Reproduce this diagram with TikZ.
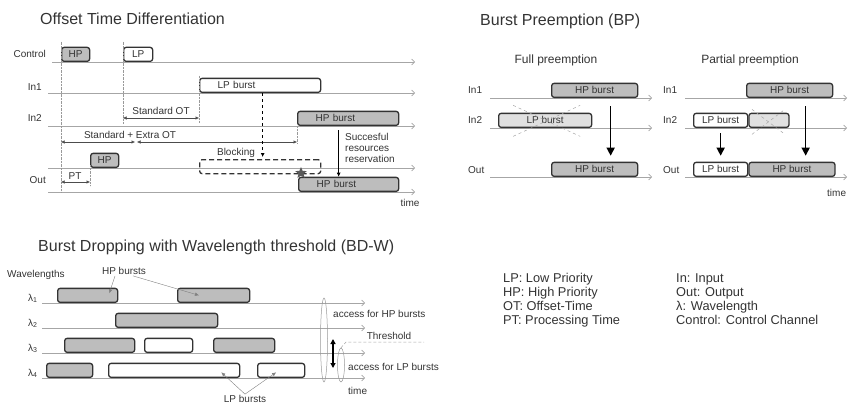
\documentclass[tikz,border=0pt]{standalone}
\usepackage{fontspec}
\setmainfont{Liberation Sans}
\usetikzlibrary{arrows.meta,shapes.geometric}

\begin{document}
\begin{tikzpicture}[x=1pt, y=-1pt,
  every node/.style={font=\fontsize{10}{12}\selectfont, text=black!80, inner sep=1pt},
  title/.style={font=\fontsize{16}{19}\selectfont, anchor=base west, inner sep=0pt},
  subtitle/.style={font=\fontsize{12}{14}\selectfont},
  legend/.style={font=\fontsize{12.8}{15}\selectfont, anchor=base west, inner sep=0pt},
  chan/.style={draw=black!35, line width=0.6pt, -{Straight Barb[length=3pt,width=6pt]}},
  burst/.style={draw=black!80, line width=1.3pt, rounded corners=2.5pt, minimum height=14pt,
                minimum width=#1, inner sep=0pt, anchor=south west},
  hp/.style={burst=#1, fill=black!26},
  lp/.style={burst=#1, fill=white},
  drop/.style={burst=#1, fill=black!12},
  guide/.style={draw=black!40, densely dotted, line width=0.4pt},
  span/.style={draw=black!70, line width=0.5pt, {Latex[length=3.5pt,width=3.5pt]}-{Latex[length=3.5pt,width=3.5pt]}},
  push/.style={draw=black, line width=1.5pt, -{Triangle[length=8pt,width=8pt]}},
  cross/.style={draw=black!35, dashed, line width=0.5pt},
  pointer/.style={draw=black!50, line width=0.4pt, -{Latex[length=4pt,width=3.5pt]}}
]
\useasboundingbox (0,0) rectangle (848,404);

% ---------------- Offset Time Differentiation ----------------
\node[title] (otdTitle) at (40,25) {Offset Time Differentiation};

\node[anchor=east] (ctlLbl) at (47,54) {Control};
\node[anchor=east] (in1Lbl) at (43,87) {In1};
\node[anchor=east] (in2Lbl) at (43,118) {In2};
\node[anchor=east] (outLbl) at (47,180) {Out};

% time axes
\foreach \n/\x/\y in {ctl/52/62, inA/48/93, inB/48/126, outC/48/168, out/48/192}{
  \coordinate (\n S) at (\x,\y);
  \coordinate (\n E) at (415,\y);
  \draw[chan] (\n S) -- (\n E);
}

\node[hp=28pt] (ctlHP) at (61,62) {HP};
\node[lp=29pt] (ctlLP) at (123,62) {LP};
\node[lp=121pt, text width=85pt, inner xsep=18pt, align=left] (in1LP) at (199,93) {LP burst};
\node[hp=101pt, text width=65pt, inner xsep=18pt, align=left] (in2HP) at (297,126) {HP burst};
\node[hp=28pt] (outCtlHP) at (90,168) {HP};
\node[hp=100pt, text width=64pt, inner xsep=18pt, align=left] (outHP) at (298,192) {HP burst};
\node[burst=121pt, fill=none, dash pattern=on 5pt off 3pt, anchor=north west] (block) at (199,159) {};
\node (blockLbl) at (236,153) {Blocking};

% offsets
\coordinate (otA) at (123,118);
\coordinate (otB) at (199,118);
\coordinate (seA) at (61,142);
\coordinate (seM) at (136,142);
\coordinate (seB) at (297,142);
\coordinate (ptA) at (61,182);
\coordinate (ptB) at (90,182);

\draw[guide] ([yshift=5pt]ctlHP.north west) -- (ctlHP.west |- outS);
\draw[guide] ([yshift=5pt]ctlLP.north west) -- ([yshift=-5pt]otA);
\draw[guide] ([yshift=2pt]in1LP.north west) -- ([yshift=-5pt]otB);
\draw[guide] (in2HP.south west) -- ([yshift=-1pt]seB);
\draw[guide] ([yshift=3pt]outCtlHP.south west) -- ([yshift=-4pt]ptB);

\draw[span] (otA) -- node[above=2pt] (otLbl) {Standard OT} (otB);
\draw[span] (seA) -- ([xshift=-1pt]seM);
\draw[span] ([xshift=1pt]seM) -- (seB);
\node (seLbl) at (130,135) {Standard + Extra OT};
\draw[span] (ptA) -- (ptB);
\node (ptLbl) at (75,176) {PT};

\draw[dashed, line width=0.7pt, -{Latex[length=4pt,width=4pt]}] ([xshift=2.5pt]in1LP.south) -- ([xshift=2.5pt,yshift=2pt]block.north);
\draw[line width=0.7pt, -{Latex[length=4pt,width=4pt]}] ([xshift=-9.5pt,yshift=-4pt]in2HP.south) coordinate (resS) -- (resS |- outHP.north);
\node[anchor=north west, align=left, inner sep=0pt, font=\fontsize{10}{11}\selectfont] (resLbl) at (345,133) {Succesful\\resources\\reservation};
\node[star, star points=5, star point ratio=2.2, fill=black!65, inner sep=0pt, minimum size=12pt] (clash) at (301,173) {};
\node (otdTime) at (410,203) {time};

% ---------------- Burst Preemption ----------------
\node[title] (bpTitle) at (480,26) {Burst Preemption (BP)};
\node[subtitle] (fullTitle) at (556,60) {Full preemption};
\node[subtitle] (partTitle) at (750,60) {Partial preemption};

\foreach \s/\dx in {f/0, p/195}{
  \node[anchor=west] (\s In1Lbl) at (467+\dx,90) {In1};
  \node[anchor=west] (\s In2Lbl) at (467+\dx,120) {In2};
  \node[anchor=west] (\s OutLbl) at (467+\dx,170) {Out};
  \foreach \r/\y in {A/98, B/128, C/177}{
    \coordinate (\s\r S) at (490+\dx,\y);
    \coordinate (\s\r E) at (652+\dx,\y);
    \draw[chan] (\s\r S) -- (\s\r E);
  }
}

% full preemption
\node[hp=86pt] (fIn1HP) at (551,98) {HP burst};
\node[drop=93pt] (fIn2LP) at (498,128) {LP burst};
\node[hp=86pt] (fOutHP) at (551,177) {HP burst};
\draw[cross] ([shift={(-32,-15)}]fIn2LP.center) -- ([shift={(35,16)}]fIn2LP.center);
\draw[cross] ([shift={(-32,16)}]fIn2LP.center) -- ([shift={(35,-15)}]fIn2LP.center);
\draw[push] ([shift={(16,8)}]fIn1HP.south) coordinate (fPush) -- ([yshift=6pt]fPush |- fOutHP.north);

% partial preemption
\node[hp=86pt] (pIn1HP) at (746,98) {HP burst};
\node[lp=54pt] (pIn2LP) at (693,128) {LP burst};
\node[drop=40pt] (pIn2Drop) at (pIn2LP.south east) {};
\node[lp=54pt] (pOutLP) at (693,177) {LP burst};
\node[hp=86pt] (pOutHP) at (pOutLP.south east) {HP burst};
\draw[cross] ([shift={(-17,-11)}]pIn2Drop.center) -- ([shift={(16,14)}]pIn2Drop.center);
\draw[cross] ([shift={(-17,14)}]pIn2Drop.center) -- ([shift={(16,-11)}]pIn2Drop.center);
\draw[push] ([yshift=-5pt]pIn2LP.south) -- ([yshift=6pt]pOutLP.north);
\draw[push] ([shift={(16,8)}]pIn1HP.south) coordinate (pPush) -- ([yshift=6pt]pPush |- pOutHP.north);
\node[anchor=west] (bpTime) at (826,193) {time};

% ---------------- Legend ----------------
\foreach \txt [count=\i] in {LP: Low Priority, HP: High Priority, OT: Offset-Time, PT: Processing Time}
  \node[legend] (legL\i) at (503,267.7+14.3*\i) {\txt};
\foreach \txt [count=\i] in {In: Input, Out: Output, λ: Wavelength, Control: Control Channel}
  \node[legend] (legR\i) at (676,267.7+14.3*\i) {\txt};

% ---------------- Burst Dropping with Wavelength threshold ----------------
\node[title] (bdTitle) at (38,251) {Burst Dropping with Wavelength threshold (BD-W)};
\node[anchor=west] (wlLbl) at (6,275) {Wavelengths};
\node (hpLbl) at (124,271) {HP bursts};

\foreach \i/\y in {1/303, 2/328, 3/353, 4/378}{
  \node[anchor=base west, inner sep=0pt] (lam\i) at (28,\y-2) {λ\textsubscript{\i}};
  \coordinate (w\i S) at (42,\y);
  \coordinate (w\i E) at (365,\y);
  \draw[chan] (w\i S) -- (w\i E);
}

\foreach \n/\x/\y/\w/\f in {l1a/57/303/60/black!26, l1b/177/303/72/black!26,
    l2a/115/328/102/black!26,
    l3a/64/353/70/black!26, l3b/144/353/48/white, l3c/213/353/61/black!26,
    l4a/46/378/46/black!26, l4b/108/378/131/white, l4c/257/378/47/white}
  \node[burst=\w pt, fill=\f] (\n) at (\x,\y) {};

\draw[pointer] ([xshift=-9pt]hpLbl.south) -- ([shift={(-9,-2)}]l1a.east);
\draw[pointer] ([xshift=9pt]hpLbl.south) -- ([xshift=22pt]l1b.west);
\node (lpLbl) at (245,399) {LP bursts};
\draw[pointer] (lpLbl.north) -- ([shift={(-19,2)}]l4b.east);
\draw[pointer] (lpLbl.north) -- ([shift={(-5,2)}]l4c.center);

% access groups and threshold
\node[ellipse, draw=black!40, line width=0.5pt, minimum width=7pt, minimum height=84pt, inner sep=0pt] (hpAccess) at (324,340) {};
\node[ellipse, draw=black!40, line width=0.5pt, minimum width=7pt, minimum height=34pt, inner sep=0pt] (lpAccess) at (341,365) {};
\coordinate (thrTop) at (333,339);
\coordinate (thrBot) at (333,368);
\draw[line width=1.2pt, {Triangle[length=5pt,width=5pt]}-{Triangle[length=5pt,width=5pt]}] (thrTop) -- (thrBot);
\coordinate (thrK) at (346,342);
\coordinate (thrE) at (424,342);
\draw[cross, densely dashed] (lpAccess.north) -- (thrK) -- (thrE);
\node (thrLbl) at (389,336) {Threshold};
\node[anchor=west] (hpAcc) at (332,314) {access for HP bursts};
\node[anchor=west] (lpAcc) at (347,367) {access for LP bursts};
\node[anchor=west] (bdTime) at (347,391) {time};

\end{tikzpicture}
\end{document}
